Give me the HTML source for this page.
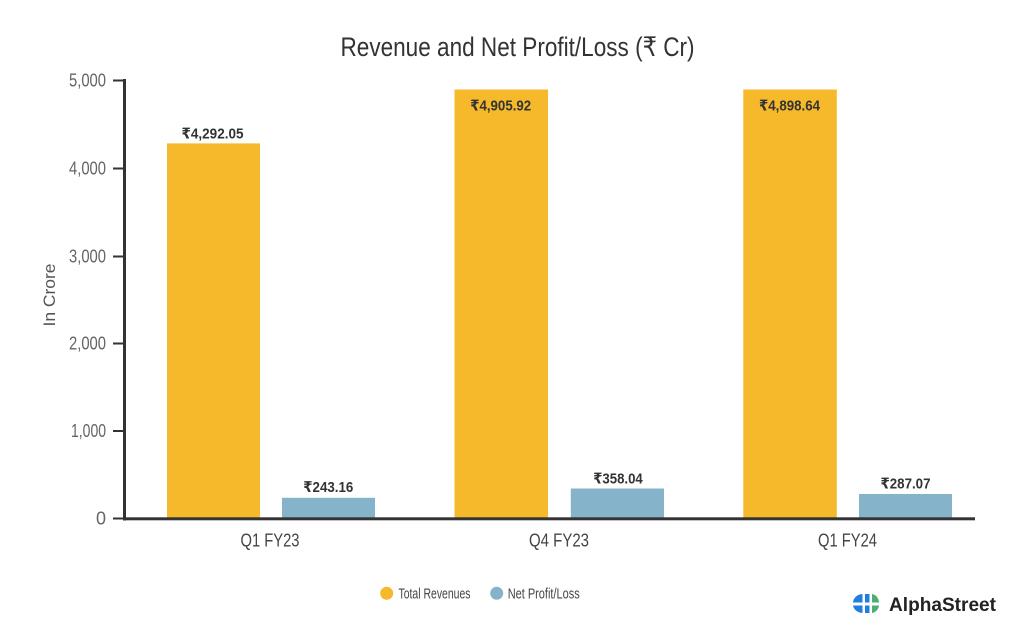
<!DOCTYPE html>
<html>
<head>
<meta charset="utf-8">
<style>
  html,body{margin:0;padding:0;background:#fff;}
  svg{display:block;}
  text{font-family:"Liberation Sans","DejaVu Sans",sans-serif;}
</style>
</head>
<body>
<svg width="1024" height="640" viewBox="0 0 1024 640" xmlns="http://www.w3.org/2000/svg">
  <rect width="1024" height="640" fill="#fff"/>
  <!-- Title -->
  <text x="340.5" y="56" font-size="27" fill="#333" textLength="354" lengthAdjust="spacingAndGlyphs">Revenue and Net Profit/Loss (₹ Cr)</text>

  <!-- Y axis label -->
  <text transform="translate(55,295) rotate(-90)" text-anchor="middle" font-size="17" fill="#555" textLength="63" lengthAdjust="spacingAndGlyphs">In Crore</text>

  <!-- Tick labels -->
  <g font-size="18" fill="#666" text-anchor="end">
    <text x="106" y="86.5" textLength="37" lengthAdjust="spacingAndGlyphs">5,000</text>
    <text x="106" y="174.5" textLength="37" lengthAdjust="spacingAndGlyphs">4,000</text>
    <text x="106" y="262.5" textLength="37" lengthAdjust="spacingAndGlyphs">3,000</text>
    <text x="106" y="349.5" textLength="37" lengthAdjust="spacingAndGlyphs">2,000</text>
    <text x="106" y="437" textLength="35" lengthAdjust="spacingAndGlyphs">1,000</text>
    <text x="106" y="524.5">0</text>
  </g>
  <!-- Tick marks -->
  <g stroke="#333" stroke-width="2">
    <line x1="113" y1="80.5" x2="125" y2="80.5"/>
    <line x1="113" y1="168.5" x2="125" y2="168.5"/>
    <line x1="113" y1="256.5" x2="125" y2="256.5"/>
    <line x1="113" y1="343.5" x2="125" y2="343.5"/>
    <line x1="113" y1="431" x2="125" y2="431"/>
    <line x1="113" y1="518.5" x2="125" y2="518.5"/>
  </g>

  <!-- Bars -->
  <g fill="#F6B92B">
    <rect x="167" y="143.4" width="93" height="374.6"/>
    <rect x="454.5" y="89.5" width="93.5" height="428.5"/>
    <rect x="743.3" y="89.5" width="93.5" height="428.5"/>
  </g>
  <g fill="#85B4CA">
    <rect x="282" y="497.8" width="93" height="20.2"/>
    <rect x="570.8" y="488.5" width="93.2" height="29.5"/>
    <rect x="859" y="494" width="93" height="24"/>
  </g>

  <!-- Axes -->
  <rect x="123" y="79" width="3" height="441.5" fill="#333"/>
  <rect x="123" y="517.3" width="852" height="3" fill="#333"/>

  <!-- Bar labels -->
  <g font-size="15" font-weight="bold" fill="#333" text-anchor="middle">
    <text x="212.5" y="138.5" textLength="62" lengthAdjust="spacingAndGlyphs">₹4,292.05</text>
    <text x="500.7" y="110.5" textLength="61" lengthAdjust="spacingAndGlyphs">₹4,905.92</text>
    <text x="789.5" y="110.5" textLength="61" lengthAdjust="spacingAndGlyphs">₹4,898.64</text>
    <text x="328.3" y="492" textLength="50" lengthAdjust="spacingAndGlyphs">₹243.16</text>
    <text x="618" y="483.3" textLength="49.5" lengthAdjust="spacingAndGlyphs">₹358.04</text>
    <text x="905.5" y="488.5" textLength="50" lengthAdjust="spacingAndGlyphs">₹287.07</text>
  </g>

  <!-- X labels -->
  <g font-size="18" fill="#444" text-anchor="middle">
    <text x="270" y="546.5" textLength="59" lengthAdjust="spacingAndGlyphs">Q1 FY23</text>
    <text x="559" y="546.5" textLength="60" lengthAdjust="spacingAndGlyphs">Q4 FY23</text>
    <text x="847.5" y="546.5" textLength="59" lengthAdjust="spacingAndGlyphs">Q1 FY24</text>
  </g>

  <!-- Legend -->
  <circle cx="386.7" cy="593.3" r="6.5" fill="#F6B92B"/>
  <text x="398.5" y="598.5" font-size="15" fill="#444" textLength="72" lengthAdjust="spacingAndGlyphs">Total Revenues</text>
  <circle cx="496.7" cy="593.3" r="6.5" fill="#85B4CA"/>
  <text x="507.7" y="598.5" font-size="15" fill="#444" textLength="72" lengthAdjust="spacingAndGlyphs">Net Profit/Loss</text>

  <!-- Logo -->
  <g>
    <path d="M853 602.5 A10 9 0 0 1 862.5 594 L862.5 602.5 Z" fill="#1E7FE0"/>
    <path d="M853 605.5 L862.5 605.5 L862.5 613 A10 9 0 0 1 853 605.5 Z" fill="#1E7FE0"/>
    <path d="M865 594 L869.5 594 L869.5 602.5 L865 602.5 Z" fill="#1E7FE0"/>
    <path d="M865 605.5 L869.5 605.5 L869.5 613 L865 613 Z" fill="#1E7FE0"/>
    <path d="M872 594 A8 9 0 0 1 879 602.5 L872 602.5 Z" fill="#4CAF72"/>
    <path d="M872 605.5 L879 605.5 A8 9 0 0 1 872 613 Z" fill="#4CAF72"/>
  </g>
  <text x="889" y="611" font-size="19" font-weight="bold" fill="#222" textLength="107" lengthAdjust="spacingAndGlyphs">AlphaStreet</text>
</svg>
</body>
</html>
